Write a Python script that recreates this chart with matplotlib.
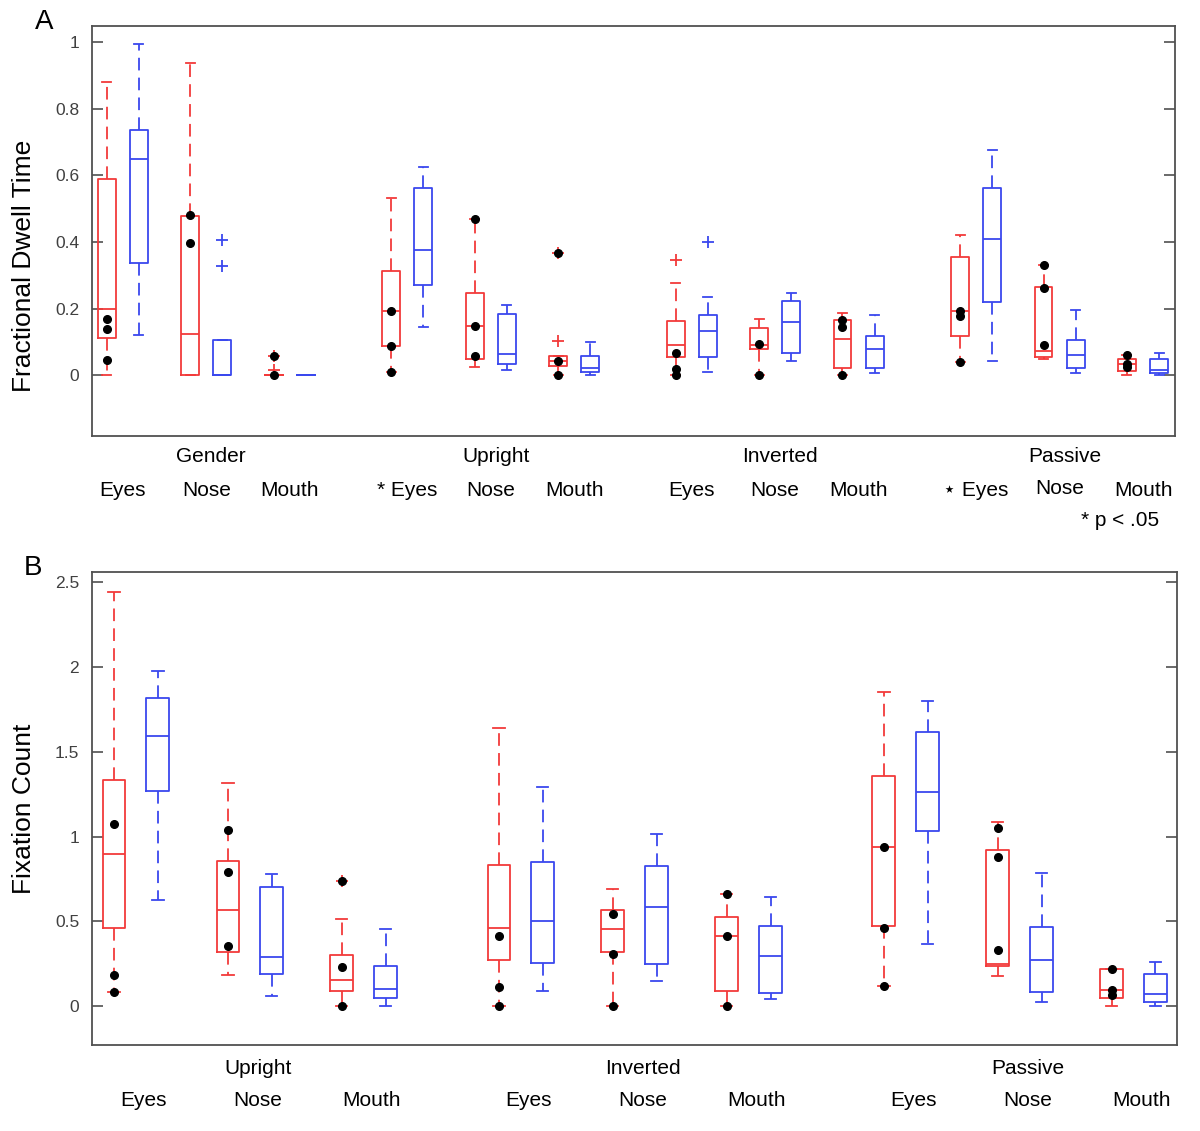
import numpy as np
import matplotlib
matplotlib.use("Agg")
import matplotlib.pyplot as plt
from matplotlib.transforms import blended_transform_factory

plt.rcParams['font.family'] = ['Liberation Sans', 'DejaVu Sans']

# ---- data -------------------------------------------------------------
cats = ['Eyes', 'Nose', 'Mouth']
groups_a = ['Gender', 'Upright', 'Inverted', 'Passive']
groups_b = ['Upright', 'Inverted', 'Passive']
sig_a = ['Eyes', 'Nose', 'Mouth', '* Eyes', 'Nose', 'Mouth',
         'Eyes', 'Nose', 'Mouth', '\u22c6 Eyes', 'Nose', 'Mouth']
ticks_a = [0, 0.2, 0.4, 0.6, 0.8, 1]
ticklab_a = ['0', '0.2', '0.4', '0.6', '0.8', '1']
ticks_b = [0, 0.5, 1, 1.5, 2, 2.5]
ticklab_b = ['0', '0.5', '1', '1.5', '2', '2.5']

# panel A: fractional dwell time (red / blue)
a_red_lo = [0, 0, 0, 0.010, 0.025, 0, 0, 0, 0, 0.038, 0.049, 0]
a_red_q1 = [0.113, 0, 0, 0.088, 0.048, 0.027, 0.055, 0.080, 0.020, 0.117, 0.055, 0.012]
a_red_med = [0.200, 0.125, 0, 0.192, 0.148, 0.042, 0.092, 0.092, 0.110, 0.192, 0.072, 0.034]
a_red_q3 = [0.590, 0.478, 0, 0.313, 0.246, 0.056, 0.164, 0.142, 0.167, 0.354, 0.264, 0.048]
a_red_hi = [0.881, 0.939, 0, 0.533, 0.468, 0.056, 0.278, 0.170, 0.188, 0.420, 0.332, 0.060]
a_red_fl = [[], [], [0.058, 0.015], [], [], [0.368, 0.102], [0.347], [], [], [], [], []]
a_dots = [[0.170, 0.138, 0.045], [0.480, 0.397], [0.058, 0], [0.192, 0.088, 0.010],
          [0.468, 0.148, 0.056], [0.368, 0.042, 0], [0.067, 0.018, 0], [0.093, 0],
          [0.167, 0.145, 0], [0.192, 0.178, 0.038], [0.332, 0.262, 0.092],
          [0.060, 0.034, 0.024]]

a_blue_lo = [0.122, 0, 0, 0.145, 0.014, 0, 0.010, 0.043, 0.006, 0.043, 0.006, 0]
a_blue_q1 = [0.338, 0, 0, 0.272, 0.034, 0.010, 0.055, 0.067, 0.020, 0.220, 0.020, 0.006]
a_blue_med = [0.650, 0, 0, 0.375, 0.062, 0.020, 0.132, 0.160, 0.078, 0.408, 0.060, 0.014]
a_blue_q3 = [0.738, 0.106, 0, 0.562, 0.185, 0.056, 0.182, 0.224, 0.117, 0.562, 0.106, 0.049]
a_blue_hi = [0.996, 0.106, 0, 0.626, 0.211, 0.100, 0.235, 0.248, 0.182, 0.677, 0.196, 0.068]
a_blue_fl = [[], [0.407, 0.328], [], [], [], [], [0.399], [], [], [], [], []]

# panel B: fixation count (red / blue)
b_red_lo = [0.085, 0.185, 0, 0, 0, 0, 0.116, 0.175, 0]
b_red_q1 = [0.461, 0.317, 0.086, 0.270, 0.317, 0.086, 0.475, 0.238, 0.045]
b_red_med = [0.898, 0.567, 0.151, 0.461, 0.455, 0.411, 0.936, 0.250, 0.094]
b_red_q3 = [1.336, 0.857, 0.301, 0.833, 0.565, 0.524, 1.355, 0.920, 0.220]
b_red_hi = [2.441, 1.318, 0.516, 1.643, 0.689, 0.658, 1.850, 1.085, 0.220]
b_red_fl = [[], [], [0.737], [], [], [], [], [], []]
b_dots = [[1.072, 0.181, 0.085], [1.038, 0.792, 0.356], [0.737, 0.230, 0],
          [0.411, 0.112, 0], [0.545, 0.309, 0], [0.658, 0.411, 0],
          [0.936, 0.461, 0.116], [1.048, 0.881, 0.333], [0.220, 0.094, 0.063]]

b_blue_lo = [0.626, 0.057, 0, 0.086, 0.150, 0.039, 0.364, 0.024, 0]
b_blue_q1 = [1.271, 0.191, 0.047, 0.252, 0.246, 0.079, 1.032, 0.081, 0.024]
b_blue_med = [1.596, 0.287, 0.102, 0.500, 0.587, 0.293, 1.262, 0.270, 0.073]
b_blue_q3 = [1.818, 0.705, 0.238, 0.849, 0.825, 0.475, 1.619, 0.467, 0.189]
b_blue_hi = [1.976, 0.778, 0.455, 1.292, 1.014, 0.642, 1.800, 0.786, 0.260]
b_blue_fl = [[], [], [], [], [], [], [], [], []]

RED = '#f23a3a'
BLUE = '#3a48ee'
W, H = 1200, 1131
LAB = 15


def make_stats(lo, q1, med, q3, hi, fl):
    return [dict(whislo=a, q1=b, med=c, q3=d, whishi=e, fliers=f)
            for a, b, c, d, e, f in zip(lo, q1, med, q3, hi, fl)]


def draw(ax, red, blue, dots, ngroups, group_step, width):
    pos = np.array([g * group_step + c for g in range(ngroups) for c in range(3)], float)
    pair = 0.385
    for stats, p, col in [(red, pos, RED), (blue, pos + pair, BLUE)]:
        ax.bxp(stats, positions=p, widths=width, capwidths=width * 0.5,
               manage_ticks=False,
               boxprops=dict(color=col, lw=1.3),
               medianprops=dict(color=col, lw=1.3),
               whiskerprops=dict(color=col, lw=1.3, linestyle=(0, (7, 4))),
               capprops=dict(color=col, lw=1.3),
               flierprops=dict(marker='+', markeredgecolor=col, markersize=8,
                               markeredgewidth=1.3, linestyle='none'))
    for p, d in zip(pos, dots):
        ax.plot([p] * len(d), d, 'o', color='black', ms=5.5, zorder=5)
    return pos + pair / 2


def style(ax, ticks, labels):
    ax.set_yticks(ticks)
    ax.set_yticklabels(labels, color='#404040', fontsize=12.5)
    ax.set_xticks([])
    ax.tick_params(axis='y', direction='in', length=8, width=1.2, right=True,
                   color='#505050', pad=9)
    for s in ax.spines.values():
        s.set_color('#505050')
        s.set_linewidth(1.3)


def fy(py):
    return 1 - py / H


fig = plt.figure(figsize=(12, 11.31), dpi=100)

# ---- panel A ----
axA = fig.add_axes([91.7 / W, fy(435.7), (1174.5 - 91.7) / W, (435.7 - 25.7) / H])
red_a = make_stats(a_red_lo, a_red_q1, a_red_med, a_red_q3, a_red_hi, a_red_fl)
blue_a = make_stats(a_blue_lo, a_blue_q1, a_blue_med, a_blue_q3, a_blue_hi, a_blue_fl)
cen_a = draw(axA, red_a, blue_a, a_dots, 4, 3.41, 0.215)
axA.set_xlim(-0.18, 12.8)
axA.set_ylim(-0.182, 1.05)
style(axA, ticks_a, ticklab_a)
trA = blended_transform_factory(axA.transData, fig.transFigure)
for i, lab in enumerate(sig_a):
    dy = 488 if i == 10 else 491
    axA.text(cen_a[i] + 0.0, fy(dy), lab, transform=trA, ha='center', va='center',
             fontsize=LAB)
for g, lab in enumerate(groups_a):
    axA.text(cen_a[g * 3 + 1] + 0.06, fy(457), lab, transform=trA, ha='center',
             va='center', fontsize=LAB)
fig.text(1120 / W, fy(520), '* p < .05', ha='center', va='center', fontsize=LAB)
fig.text(24 / W, fy(266), 'Fractional Dwell Time', rotation=90, ha='center',
         va='center', fontsize=19)
fig.text(44 / W, fy(22), 'A', ha='center', va='center', fontsize=20)

# ---- panel B ----
axB = fig.add_axes([91.7 / W, fy(1045), (1176.5 - 91.7) / W, (1045 - 572.3) / H])
red_b = make_stats(b_red_lo, b_red_q1, b_red_med, b_red_q3, b_red_hi, b_red_fl)
blue_b = make_stats(b_blue_lo, b_blue_q1, b_blue_med, b_blue_q3, b_blue_hi, b_blue_fl)
cen_b = draw(axB, red_b, blue_b, b_dots, 3, 3.38, 0.2)
axB.set_xlim(-0.196, 9.33)
axB.set_ylim(-0.23, 2.559)
style(axB, ticks_b, ticklab_b)
trB = blended_transform_factory(axB.transData, fig.transFigure)
for i in range(9):
    axB.text(cen_b[i] + 0.07, fy(1101), cats[i % 3], transform=trB, ha='center',
             va='center', fontsize=LAB)
for g, lab in enumerate(groups_b):
    axB.text(cen_b[g * 3 + 1] + 0.07, fy(1068), lab, transform=trB, ha='center',
             va='center', fontsize=LAB)
fig.text(24 / W, fy(809), 'Fixation Count', rotation=90, ha='center',
         va='center', fontsize=19)
fig.text(33 / W, fy(568), 'B', ha='center', va='center', fontsize=20)

plt.savefig('out.png', dpi=100)
plt.close("all")
